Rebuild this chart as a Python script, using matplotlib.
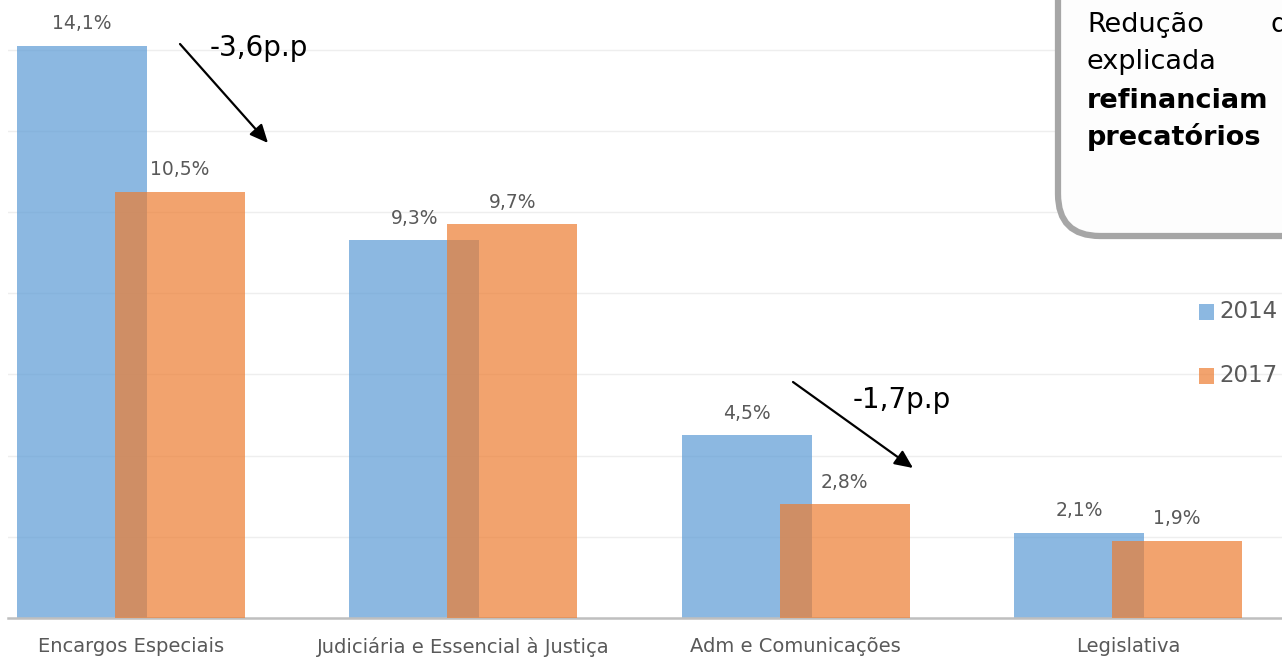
import numpy as np
import matplotlib.pyplot as plt
from matplotlib.patches import FancyBboxPatch, Rectangle
from matplotlib.transforms import IdentityTransform

# data
categories = ["Encargos Especiais", "Judiciária e Essencial à Justiça",
              "Adm e Comunicações", "Legislativa"]
series_names = ["2014", "2017"]
values_2014 = [14.1, 9.3, 4.5, 2.1]
values_2017 = [10.5, 9.7, 2.8, 1.9]
colors = ["#5B9BD5", "#ED7D31"]

W, H = 1282, 658
fig = plt.figure(figsize=(W/100, H/100), dpi=100)
ax = fig.add_axes([8/W, 40/H, 1-8/W, 618/H])

x = np.arange(len(categories))
width = 0.391
off = 0.1475
ax.bar(x-off, values_2014, width, color=colors[0], alpha=0.7, zorder=2)
ax.bar(x+off, values_2017, width, color=colors[1], alpha=0.7, zorder=3)

for xs, vals in [(x-off, values_2014), (x+off, values_2017)]:
    for xi, v in zip(xs, vals):
        ax.annotate(f"{v:.1f}%".replace(".", ","), (xi, v), xytext=(0, 9),
                    textcoords="offset points", ha="center", va="bottom",
                    fontsize=13.5, color="#595959")

ax.set_xlim((8-131)/332.3, (W-131)/332.3)
ax.set_ylim(0, 618/40.6)
ax.set_yticks(np.arange(2, 16, 2))
ax.yaxis.grid(True, color="#EEEEEE", lw=1, zorder=0)
ax.tick_params(axis="y", length=0, labelleft=False)
ax.set_xticks(x)
ax.set_xticklabels(categories, fontsize=14, color="#595959")
ax.tick_params(axis="x", length=0, pad=14)
for s in ["top", "left", "right"]:
    ax.spines[s].set_visible(False)
ax.spines["bottom"].set_color("#BFBFBF")
ax.spines["bottom"].set_linewidth(1.8)

# arrows and annotations
def fp(px, py):
    return (px/W, 1-py/H)

for start, end in [((180, 44), (268, 143)), ((793, 382), (913, 468))]:
    ax.annotate("", xy=fp(*end), xytext=fp(*start), xycoords="figure fraction",
                textcoords="figure fraction",
                arrowprops=dict(arrowstyle="-|>,head_length=1.1,head_width=0.5",
                                color="black", lw=1.6, shrinkA=0, shrinkB=0))
fig.text(*fp(210, 48), "-3,6p.p", fontsize=20, color="black", va="center")
fig.text(*fp(853, 400), "-1,7p.p", fontsize=20, color="black", va="center")

# text box (cut off at the right edge)
box = FancyBboxPatch((1058, H-236), 400, 300,
                     boxstyle="round,pad=0,rounding_size=42",
                     transform=IdentityTransform(), facecolor="#FDFDFD",
                     edgecolor="#A6A6A6", lw=4.5, zorder=5)
fig.patches.append(box)
fs_box = 19.5
fig.text(*fp(1087, 25), "Redução", fontsize=fs_box, va="center", zorder=6)
fig.text(*fp(1270, 25), "d", fontsize=fs_box, va="center", zorder=6)
fig.text(*fp(1087, 62), "explicada", fontsize=fs_box, va="center", zorder=6)
fig.text(*fp(1087, 101), "refinanciam", fontsize=fs_box, va="center",
         fontweight="bold", zorder=6)
fig.text(*fp(1087, 137), "precatórios", fontsize=fs_box, va="center",
         fontweight="bold", zorder=6)

# legend
for name, c, py in zip(series_names, colors, [312, 376]):
    fig.patches.append(Rectangle((1199/W, 1-(py+8)/H), 15/W, 16/H,
                                 transform=fig.transFigure, facecolor=c,
                                 alpha=0.7, edgecolor="none"))
    fig.text(1219/W, 1-py/H, name, fontsize=16.5, color="#595959", va="center")

fig.savefig("out.png", dpi=100)
